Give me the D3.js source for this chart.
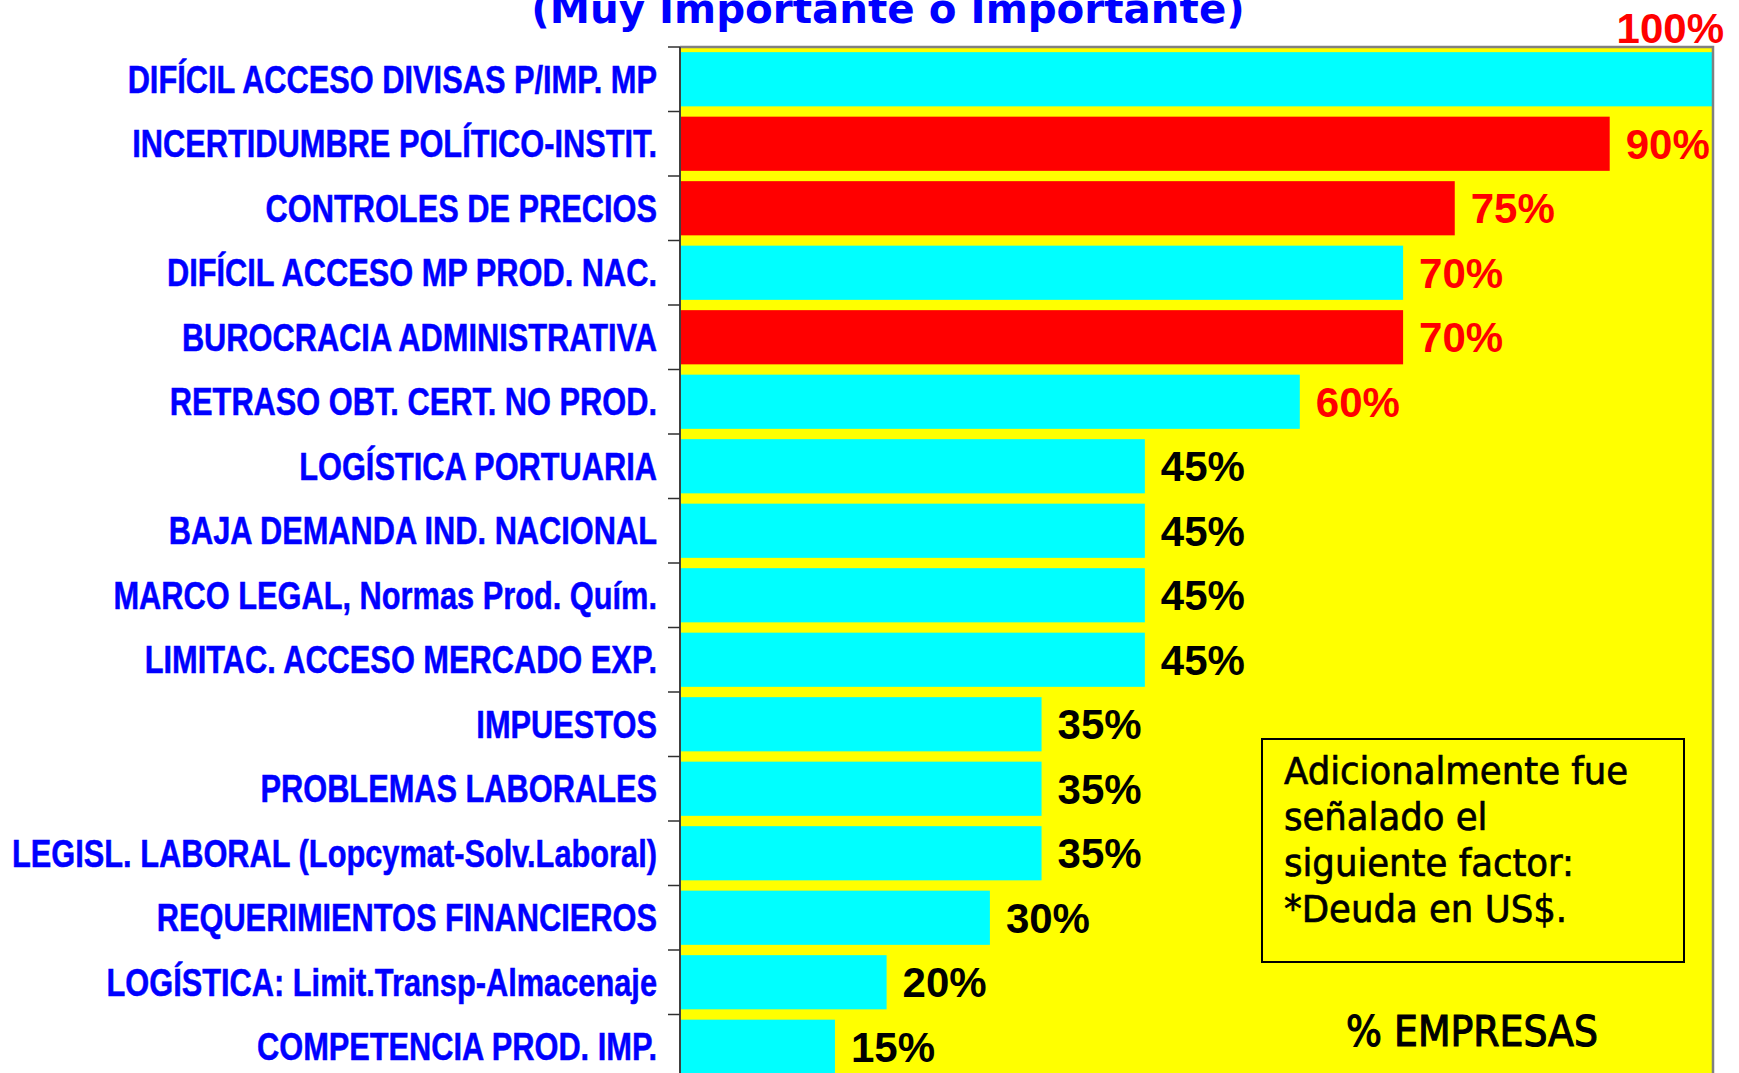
<!DOCTYPE html>
<html lang="es">
	<head>
		<meta charset="utf-8">
		<title>D3: Factores que afectan a las empresas</title>
		<script type="text/javascript" src="https://cdn.jsdelivr.net/npm/d3@7"></script>
		<style type="text/css">

		body {
			margin: 0;
			background: #ffffff;
		}

		.cat {
			font-family: "Liberation Sans", Arial, sans-serif;
			font-weight: bold;
			font-size: 38px;
			fill: #0000ff;
			stroke: #0000ff;
			stroke-width: 0.5px;
		}

		.val {
			font-family: "Liberation Sans", Arial, sans-serif;
			font-weight: bold;
			font-size: 42px;
		}

		.note {
			font-family: "DejaVu Sans", sans-serif;
			font-size: 37px;
			fill: #000000;
			stroke: #000000;
			stroke-width: 0.7px;
		}

		</style>
	</head>
	<body>

		<script type="text/javascript">

		//Width and height
		var w = 1739;
		var h = 1073;

		//Data
		var categories = [
			"DIFÍCIL ACCESO DIVISAS P/IMP. MP",
			"INCERTIDUMBRE POLÍTICO-INSTIT.",
			"CONTROLES DE PRECIOS",
			"DIFÍCIL ACCESO MP PROD. NAC.",
			"BUROCRACIA ADMINISTRATIVA",
			"RETRASO OBT. CERT. NO PROD.",
			"LOGÍSTICA PORTUARIA",
			"BAJA DEMANDA IND. NACIONAL",
			"MARCO LEGAL, Normas Prod. Quím.",
			"LIMITAC. ACCESO MERCADO EXP.",
			"IMPUESTOS",
			"PROBLEMAS LABORALES",
			"LEGISL. LABORAL (Lopcymat-Solv.Laboral)",
			"REQUERIMIENTOS FINANCIEROS",
			"LOGÍSTICA: Limit.Transp-Almacenaje",
			"COMPETENCIA PROD. IMP."
		];
		var values = [100, 90, 75, 70, 70, 60, 45, 45, 45, 45, 35, 35, 35, 30, 20, 15];
		//factors highlighted in red in the original
		var highlighted = [false, true, true, false, true, false, false, false, false, false, false, false, false, false, false, false];

		var titleText = "(Muy Importante o Importante)";
		var noteLines = ["Adicionalmente fue", "señalado el", "siguiente factor:", "*Deuda en US$."];
		var axisTitle = "% EMPRESAS";

		var dataset = categories.map(function(c, i) {
			return { name: c, value: values[i], hi: highlighted[i] };
		});

		//Plot area
		var plotLeft = 680, plotRight = 1713, plotTop = 47;
		var step = 64.5;

		var x = d3.scaleLinear()
			.domain([0, 100])
			.range([plotLeft, plotRight]);

		var y = d3.scaleBand()
			.domain(categories)
			.range([plotTop, plotTop + step * categories.length])
			.paddingInner(0.16)
			.paddingOuter(0.08);

		var plotBottom = y.range()[1];

		//Create SVG element
		var svg = d3.select("body")
			.append("svg")
			.attr("width", w)
			.attr("height", h);

		svg.append("rect")
			.attr("width", w)
			.attr("height", h)
			.attr("fill", "#ffffff");

		//Title (cut off at the top in the original)
		svg.append("text")
			.attr("transform", "translate(888,23) scale(1.01,1)")
			.attr("text-anchor", "middle")
			.style("font-family", "'DejaVu Sans', sans-serif")
			.style("font-weight", "bold")
			.style("font-size", "40px")
			.style("fill", "#0000ff")
			.text(titleText);

		//Yellow plot background
		svg.append("rect")
			.attr("x", plotLeft)
			.attr("y", plotTop)
			.attr("width", plotRight - plotLeft)
			.attr("height", plotBottom - plotTop)
			.attr("fill", "#ffff00");

		//Bars
		svg.selectAll("rect.bar")
			.data(dataset)
			.enter()
			.append("rect")
			.attr("class", "bar")
			.attr("x", x(0))
			.attr("y", function(d) { return y(d.name); })
			.attr("width", function(d) { return x(d.value) - x(0); })
			.attr("height", y.bandwidth())
			.attr("fill", function(d) { return d.hi ? "#ff0000" : "#00ffff"; });

		//Plot border top and right
		svg.append("path")
			.attr("d", "M" + plotLeft + "," + plotTop + "H" + plotRight + "V" + plotBottom)
			.attr("fill", "none")
			.attr("stroke", "#808080")
			.attr("stroke-width", 2.5);

		//Category axis: line and ticks between bands
		svg.append("line")
			.attr("x1", plotLeft).attr("x2", plotLeft)
			.attr("y1", plotTop).attr("y2", plotBottom)
			.attr("stroke", "#404040")
			.attr("stroke-width", 2);

		var boundaries = categories.map(function(c) {
			return y(c) - y.step() * y.paddingInner() / 2;
		});
		svg.selectAll("line.tick")
			.data(boundaries)
			.enter()
			.append("line")
			.attr("class", "tick")
			.attr("x1", plotLeft - 12).attr("x2", plotLeft)
			.attr("y1", function(d) { return d; })
			.attr("y2", function(d) { return d; })
			.attr("stroke", "#303030")
			.attr("stroke-width", 1.5);

		//Category labels (narrow bold)
		svg.selectAll("g.cat")
			.data(dataset)
			.enter()
			.append("g")
			.attr("class", "cat-label")
			.attr("transform", function(d) {
				return "translate(657," + (y(d.name) + y.bandwidth() / 2) + ") scale(0.81,1)";
			})
			.append("text")
			.attr("class", "cat")
			.attr("text-anchor", "end")
			.attr("dy", "0.36em")
			.text(function(d) { return d.name; });

		//Value labels
		svg.selectAll("text.val")
			.data(dataset)
			.enter()
			.append("text")
			.attr("class", "val")
			.attr("x", function(d) {
				return d.value >= 100 ? x(d.value) + 11 : x(d.value) + 16;
			})
			.attr("y", function(d) {
				return d.value >= 100 ? y(d.name) - 9 : y(d.name) + y.bandwidth() / 2;
			})
			.attr("dy", function(d) { return d.value >= 100 ? 0 : "0.36em"; })
			.attr("text-anchor", function(d) { return d.value >= 100 ? "end" : "start"; })
			.style("fill", function(d) { return d.value >= 60 ? "#ff0000" : "#000000"; })
			.text(function(d) { return d.value + "%"; });

		//Note box
		svg.append("rect")
			.attr("x", 1262)
			.attr("y", 739)
			.attr("width", 422)
			.attr("height", 223)
			.attr("fill", "none")
			.attr("stroke", "#000000")
			.attr("stroke-width", 2);

		svg.selectAll("text.note")
			.data(noteLines)
			.enter()
			.append("text")
			.attr("class", "note")
			.attr("transform", function(d, i) {
				return "translate(1284," + (784 + i * 46) + ") scale(0.96,1)";
			})
			.text(function(d) { return d; });

		//Value axis title
		svg.append("text")
			.attr("class", "axis-title note")
			.attr("transform", "translate(1472,1046) scale(0.9,1)")
			.attr("text-anchor", "middle")
			.style("font-size", "42px")
			.style("stroke-width", "1.2px")
			.text(axisTitle);

		</script>
	</body>
</html>
